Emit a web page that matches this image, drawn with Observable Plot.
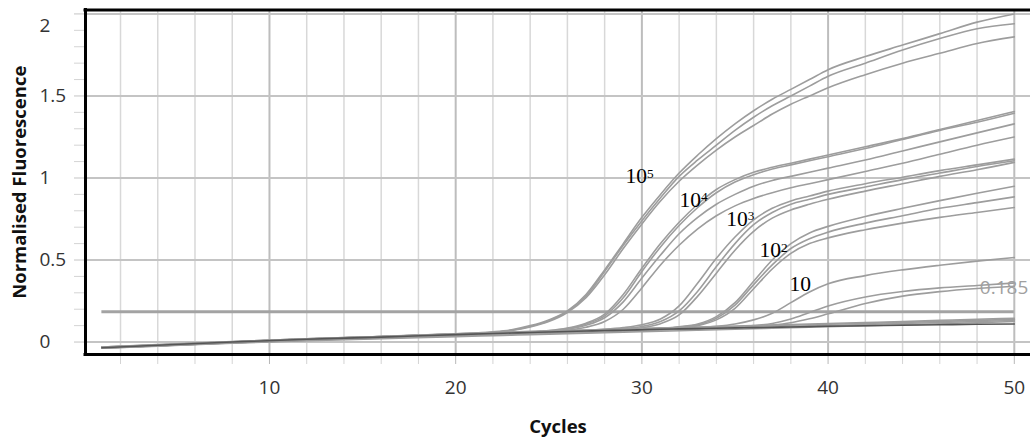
<!DOCTYPE html>
<html><head><meta charset="utf-8">
<script src="https://cdn.jsdelivr.net/npm/d3@7"></script>
<script src="https://cdn.jsdelivr.net/npm/@observablehq/plot@0.6"></script>
<style>html,body{margin:0;padding:0;background:#fff;overflow:hidden}</style>
</head><body><div id="chart"></div>
<script>
// Cycle positions at which curve values were read
const cycles = [1,4,8,12,16,20,22,23,24,25,26,27,28,29,30,31,32,33,34,35,36,37,38,39,40,42,44,46,48,50];

// 10^5 copies
const a1 = [-0.035,-0.02,0.0,0.018,0.033,0.05,0.062,0.075,0.1,0.135,0.19,0.29,0.44,0.6,0.76,0.9,1.03,1.14,1.24,1.33,1.41,1.48,1.54,1.6,1.66,1.74,1.81,1.88,1.95,2.0];
const a2 = [-0.03,-0.018,0.002,0.02,0.034,0.05,0.06,0.072,0.095,0.13,0.185,0.28,0.43,0.59,0.74,0.88,1.01,1.11,1.2,1.29,1.37,1.44,1.5,1.56,1.62,1.7,1.78,1.85,1.91,1.94];
const a3 = [-0.032,-0.018,0.0,0.018,0.032,0.048,0.058,0.07,0.092,0.125,0.18,0.27,0.41,0.57,0.72,0.86,0.98,1.08,1.17,1.25,1.32,1.39,1.45,1.5,1.55,1.63,1.7,1.76,1.82,1.86];
// 10^4 copies
const b1 = [-0.035,-0.02,0.0,0.018,0.033,0.05,0.057,0.061,0.065,0.07,0.085,0.115,0.17,0.29,0.45,0.6,0.73,0.84,0.93,0.99,1.035,1.065,1.09,1.115,1.14,1.19,1.24,1.295,1.35,1.405];
const b2 = [-0.03,-0.016,0.003,0.02,0.034,0.048,0.055,0.059,0.063,0.068,0.082,0.11,0.16,0.27,0.43,0.58,0.71,0.82,0.91,0.975,1.02,1.055,1.08,1.105,1.13,1.18,1.235,1.29,1.34,1.395];
const b3 = [-0.036,-0.022,-0.002,0.015,0.03,0.045,0.052,0.056,0.06,0.066,0.078,0.102,0.148,0.245,0.39,0.53,0.66,0.76,0.84,0.9,0.95,0.985,1.01,1.035,1.06,1.11,1.165,1.22,1.275,1.33];
const b4 = [-0.033,-0.02,0.0,0.016,0.03,0.045,0.052,0.056,0.06,0.064,0.072,0.09,0.125,0.2,0.33,0.47,0.59,0.69,0.77,0.83,0.875,0.91,0.94,0.965,0.99,1.04,1.09,1.145,1.2,1.25];
// 10^3 copies
const c1 = [-0.034,-0.02,0.0,0.017,0.031,0.046,0.053,0.057,0.061,0.064,0.068,0.072,0.078,0.088,0.105,0.14,0.22,0.36,0.51,0.64,0.745,0.815,0.86,0.89,0.92,0.965,1.005,1.045,1.08,1.115];
const c2 = [-0.031,-0.017,0.002,0.019,0.033,0.047,0.054,0.058,0.061,0.064,0.067,0.07,0.074,0.082,0.095,0.125,0.19,0.31,0.46,0.6,0.715,0.79,0.84,0.87,0.9,0.945,0.99,1.03,1.07,1.105];
const c3 = [-0.036,-0.023,-0.004,0.012,0.026,0.04,0.047,0.051,0.055,0.058,0.061,0.064,0.068,0.075,0.087,0.112,0.165,0.28,0.42,0.56,0.675,0.755,0.805,0.84,0.87,0.92,0.965,1.01,1.05,1.095];
// 10^2 copies
const d1 = [-0.033,-0.02,0.0,0.016,0.03,0.044,0.051,0.055,0.058,0.061,0.064,0.067,0.07,0.074,0.078,0.084,0.093,0.11,0.155,0.24,0.37,0.5,0.6,0.665,0.705,0.765,0.815,0.862,0.907,0.95];
const d2 = [-0.035,-0.021,-0.002,0.014,0.028,0.042,0.049,0.053,0.056,0.059,0.062,0.065,0.068,0.072,0.076,0.082,0.09,0.105,0.145,0.225,0.35,0.47,0.57,0.63,0.67,0.725,0.77,0.815,0.85,0.885];
const d3v = [-0.037,-0.024,-0.005,0.011,0.024,0.037,0.044,0.048,0.051,0.054,0.057,0.06,0.063,0.067,0.071,0.077,0.085,0.1,0.135,0.205,0.325,0.445,0.54,0.6,0.635,0.685,0.725,0.76,0.79,0.82];
// 10 copies
const e1 = [-0.034,-0.02,0.0,0.016,0.03,0.044,0.051,0.055,0.058,0.061,0.064,0.067,0.07,0.073,0.076,0.079,0.083,0.088,0.096,0.11,0.135,0.175,0.24,0.305,0.355,0.405,0.44,0.468,0.493,0.515];
const e2 = [-0.036,-0.022,-0.003,0.013,0.027,0.04,0.047,0.051,0.054,0.057,0.06,0.063,0.066,0.069,0.072,0.075,0.078,0.082,0.087,0.093,0.1,0.113,0.14,0.18,0.22,0.275,0.308,0.33,0.345,0.36];
const e3 = [-0.035,-0.021,-0.002,0.014,0.028,0.042,0.049,0.053,0.056,0.059,0.062,0.065,0.068,0.071,0.074,0.077,0.08,0.083,0.087,0.091,0.096,0.104,0.118,0.142,0.172,0.235,0.28,0.307,0.326,0.34];
// non-amplifying
const n1 = [-0.035,-0.022,-0.003,0.014,0.028,0.044,0.052,0.056,0.06,0.063,0.066,0.069,0.072,0.075,0.078,0.081,0.084,0.087,0.09,0.093,0.096,0.099,0.102,0.105,0.108,0.114,0.12,0.126,0.132,0.138];
const n2 = [-0.032,-0.018,0.001,0.018,0.032,0.047,0.055,0.059,0.063,0.066,0.07,0.073,0.077,0.08,0.083,0.086,0.089,0.092,0.095,0.098,0.101,0.104,0.107,0.11,0.113,0.119,0.125,0.132,0.139,0.145];
const n4 = [-0.038,-0.025,-0.007,0.008,0.02,0.033,0.039,0.042,0.045,0.048,0.051,0.054,0.057,0.06,0.063,0.066,0.069,0.072,0.075,0.078,0.081,0.084,0.087,0.09,0.093,0.099,0.105,0.111,0.118,0.125];
const n5 = [-0.036,-0.023,-0.004,0.012,0.025,0.039,0.046,0.05,0.053,0.056,0.059,0.062,0.065,0.068,0.071,0.074,0.077,0.08,0.083,0.086,0.089,0.092,0.095,0.098,0.101,0.107,0.113,0.119,0.125,0.131];
// darker non-amplifying trace
const darkTrace = [-0.035,-0.02,0.0,0.017,0.03,0.045,0.052,0.055,0.058,0.061,0.064,0.067,0.07,0.072,0.075,0.078,0.08,0.082,0.084,0.086,0.088,0.09,0.092,0.094,0.096,0.099,0.102,0.105,0.108,0.11];

const grayTraces = [["a1",a1],["a2",a2],["a3",a3],["b1",b1],["b2",b2],["b3",b3],["b4",b4],["c1",c1],["c2",c2],["c3",c3],["d1",d1],["d2",d2],["d3",d3v],["e1",e1],["e2",e2],["e3",e3],["n1",n1],["n2",n2],["n4",n4],["n5",n5]];

const threshold = 0.185;

// concentration labels: base "10" and exponent
const labelBases = ["10","10","10","10","10"];
const labelExponents = ["5","4","3","2",""];
const labelCycles = [29.12, 32.02, 34.53, 36.32, 37.93];
const labelValues = [0.968, 0.826, 0.710, 0.517, 0.31];

const xMinorTicks = [2,4,6,8,12,14,16,18,22,24,26,28,32,34,36,38,42,44,46,48];
const xMajorTicks = [10,20,30,40,50];
const yMinorTicks = [0.1,0.2,0.3,0.4,0.6,0.7,0.8,0.9,1.1,1.2,1.3,1.4,1.6,1.7,1.8,1.9];
const yMajorTicks = [0,0.5,1,1.5,2];
const yTickLabels = ["0","0.5","1","1.5","2"];

const xDomain = [0.12, 50.87];
const yDomain = [-0.076, 2.024];

const rows = grayTraces.flatMap(([name, vals]) => vals.map((v, i) => ({curve: name, cycle: cycles[i], value: v})));
const darkRows = darkTrace.map((v, i) => ({cycle: cycles[i], value: v}));

const tickFont = 19;
const titleFont = 18.5;
const chart = Plot.plot({
  width: 1030, height: 441,
  marginLeft: 85, marginRight: 0, marginTop: 9.5, marginBottom: 87,
  style: {fontFamily: "'Open Sans', sans-serif", background: "#fff", overflow: "visible"},
  x: {domain: xDomain, axis: null},
  y: {domain: yDomain, axis: null},
  marks: [
    Plot.gridX(xMinorTicks, {stroke: "#d8d8d8", strokeOpacity: 1, strokeWidth: 1.5}),
    Plot.gridX(xMajorTicks, {stroke: "#bdbdbd", strokeOpacity: 1, strokeWidth: 2}),
    Plot.gridY(yMajorTicks, {stroke: "#c4c4c4", strokeOpacity: 1, strokeWidth: 2}),
    Plot.axisX(xMinorTicks, {tickSize: 10, stroke: "#d4d4d4", tickFormat: () => "", label: null}),
    Plot.axisX(xMajorTicks, {tickSize: 10, stroke: "#b8b8b8", tickFormat: () => "", label: null}),
    Plot.axisY(yMinorTicks, {tickSize: 11, stroke: "#d4d4d4", tickFormat: () => "", label: null}),
    Plot.axisY(yMajorTicks, {tickSize: 11, stroke: "#c4c4c4", tickFormat: () => "", label: null}),
    Plot.ruleY([threshold], {x1: cycles[0], x2: cycles[cycles.length - 1], stroke: "#a3a3a3", strokeWidth: 3}),
    Plot.line(rows, {x: "cycle", y: "value", z: "curve", stroke: "#9d9d9d", strokeWidth: 1.6, curve: "monotone-x"}),
    Plot.line(darkRows, {x: "cycle", y: "value", stroke: "#555", strokeWidth: 1.6, curve: "monotone-x"}),
    Plot.text([threshold], {x: cycles[cycles.length - 1], y: d => d, text: d => String(d), dx: 14, dy: -24, textAnchor: "end", lineAnchor: "middle", fill: "#a0a0a0", fontSize: tickFont}),
    Plot.text(labelBases, {x: (d, i) => labelCycles[i], y: (d, i) => labelValues[i], text: (d, i) => d + "\u200B" + labelExponents[i], textAnchor: "start", lineAnchor: "bottom", fontFamily: "'Liberation Serif', 'Times New Roman', serif", fontSize: 21.5, fill: "#000"}),
    Plot.ruleX([xDomain[0]], {stroke: "#000", strokeWidth: 3, strokeLinecap: "square"}),
    Plot.ruleY([yDomain[0], yDomain[1]], {stroke: "#000", strokeWidth: 3, strokeLinecap: "square"}),
    Plot.text(yTickLabels.slice(0, 4), {y: (d, i) => yMajorTicks[i], frameAnchor: "left", dx: -46, textAnchor: "start", lineAnchor: "middle", text: d => d, fontSize: tickFont, fill: "#333"}),
    Plot.text(yTickLabels.slice(4), {y: (d, i) => yMajorTicks[4 + i], frameAnchor: "left", dx: -46, dy: 12, textAnchor: "start", lineAnchor: "middle", text: d => d, fontSize: tickFont, fill: "#333"}),
    Plot.text(xMajorTicks, {x: d => d, frameAnchor: "bottom", dy: 33, lineAnchor: "middle", text: d => String(d), fontSize: tickFont, fill: "#333"}),
    Plot.text(["Cycles"], {frameAnchor: "bottom", dy: 73, lineAnchor: "middle", textAnchor: "middle", text: d => d, fontWeight: "bold", fontSize: titleFont, fill: "#111"}),
    Plot.text(["Normalised Fluorescence"], {frameAnchor: "left", dx: -65, rotate: -90, textAnchor: "middle", lineAnchor: "middle", text: d => d, fontWeight: "bold", fontSize: titleFont, fill: "#111"})
  ]
});
// render the exponent part of each concentration label as a raised, smaller tspan
const SVGNS = "http://www.w3.org/2000/svg";
chart.querySelectorAll("text").forEach(el => {
  const t = el.textContent;
  if (t.indexOf("\u200B") < 0) return;
  const parts = t.split("\u200B");
  el.textContent = parts[0];
  if (parts[1]) {
    const ts = document.createElementNS(SVGNS, "tspan");
    ts.setAttribute("dy", "-0.42em");
    ts.setAttribute("font-size", "0.62em");
    ts.textContent = parts[1];
    el.appendChild(ts);
  }
});
document.getElementById("chart").appendChild(chart);
</script>
</body></html>
